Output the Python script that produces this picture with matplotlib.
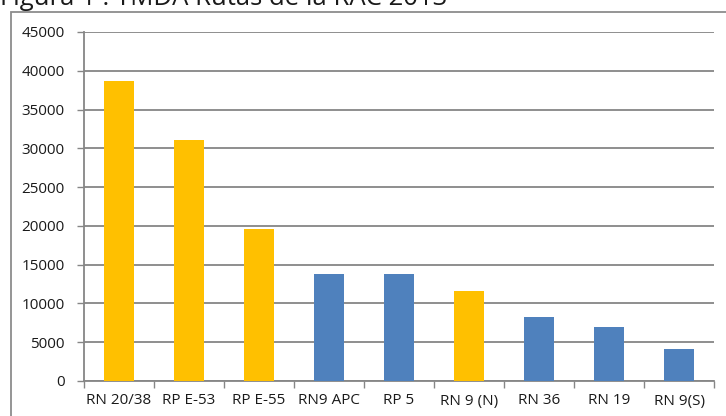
import matplotlib
matplotlib.use("Agg")
import matplotlib.pyplot as plt
from matplotlib.patches import Rectangle

# Average daily traffic (TMDA) per route, 2013
routes = ["RN 20/38", "RP E-53", "RP E-55", "RN9 APC", "RP 5", "RN 9 (N)", "RN 36", "RN 19", "RN 9(S)"]
tmda = [38700, 31100, 19600, 13800, 13800, 11600, 8300, 7000, 4150]
highlighted = [True, True, True, False, False, True, False, False, False]

title = "Figura 1 : TMDA Rutas de la RAC 2013"
y_ticks = [0, 5000, 10000, 15000, 20000, 25000, 30000, 35000, 40000, 45000]

ORANGE = "#FFC000"
BLUE = "#4F81BD"
GRID = "#868686"
TEXT = "#1a1a1a"

plt.rcParams["font.family"] = ["Open Sans", "DejaVu Sans"]

fig = plt.figure(figsize=(7.26, 4.16), dpi=100)
W, H = 726, 416

# outer chart frame (only top and left edges fall inside the canvas)
fig.patches.append(Rectangle((11 / W, -0.1), 1.2, 1 - 12 / H + 0.1,
                             transform=fig.transFigure, fill=False,
                             edgecolor="#8c8c8c", linewidth=1.3))

fig.text(0.0, 1 - 5 / H, title, fontsize=18.5, color=TEXT, ha="left", va="baseline")

ax = fig.add_axes([84 / W, (H - 381) / H, 630 / W, 349 / H])
x = list(range(len(routes)))
colors = [ORANGE if h else BLUE for h in highlighted]
ax.bar(x, tmda, width=0.42, color=colors, zorder=3)

ax.set_xlim(-0.5, len(routes) - 0.5)
ax.set_ylim(0, 45000)
ax.set_yticks(y_ticks)
ax.set_yticklabels([str(v) for v in y_ticks])
ax.yaxis.grid(True, color=GRID, linewidth=1.3, zorder=0)
ax.tick_params(axis="y", length=5, width=1.0, color=GRID, pad=9,
               labelsize=11, labelcolor=TEXT)

ax.set_xticks([i - 0.5 for i in range(len(routes) + 1)])
ax.set_xticklabels([])
ax.set_xticks(x, minor=True)
ax.set_xticklabels(routes, minor=True)
ax.tick_params(axis="x", which="major", length=5, width=1.0, color=GRID)
ax.tick_params(axis="x", which="minor", length=0, pad=9, labelsize=11, labelcolor=TEXT)

for side in ("top", "right"):
    ax.spines[side].set_visible(False)
for side in ("left", "bottom"):
    ax.spines[side].set_color(GRID)
    ax.spines[side].set_linewidth(1.3)

fig.savefig("out.png", dpi=100)
